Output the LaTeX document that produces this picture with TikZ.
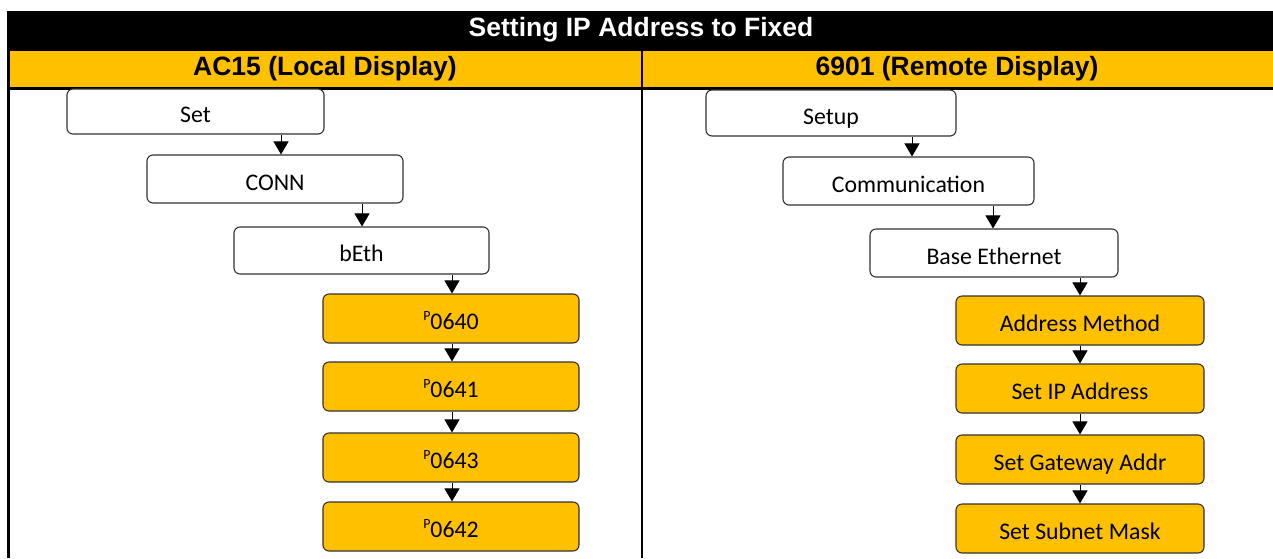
\documentclass[tikz,border=0pt]{standalone}
\usepackage{fontspec}
\setmainfont{Carlito}
\newfontfamily\hdrfont{Liberation Sans}
\usetikzlibrary{arrows.meta}
\definecolor{amber}{RGB}{255,192,0}
\definecolor{boxline}{RGB}{50,50,50}
\tikzset{
  flowbox/.style={draw=boxline, line width=1.1pt, rounded corners=6pt, inner sep=0pt,
    font=\fontsize{23.8}{26}\selectfont, text height=22pt, text depth=0pt, anchor=center},
  wbox/.style={flowbox, fill=white},
  ybox/.style={flowbox, fill=amber},
  arr/.style={line width=1pt, -{Triangle[width=15pt,length=13pt]}},
  hdr/.style={font=\hdrfont\bfseries\fontsize{26.5}{30}\selectfont, inner sep=0pt, anchor=center},
  rule/.style={line width=2.6pt, black}
}
\newcommand{\pp}{{\fontsize{14}{14}\selectfont\raisebox{0.62em}{P}}}
\begin{document}
\begin{tikzpicture}[x=1pt,y=-1pt]
\useasboundingbox (0,0) rectangle (1273,558);
\fill[white] (0,0) rectangle (1273,558);
% table
\fill[black] (7.3,11) rectangle (1273,51);
\fill[amber] (7.3,51) rectangle (1273,87);
\draw[rule] (7.3,88.2) -- (1273,88.2);
\draw[rule] (8.6,11) -- (8.6,558);
\draw[rule] (642,51) -- (642,558);
\node[hdr, text=white] (title) at (641,29.5) {Setting IP Address to Fixed};
\node[hdr] (hl) at (325,68.5) {AC15 (Local Display)};
\node[hdr] (hr) at (957,68.5) {6901 (Remote Display)};
% left column
\node[wbox, minimum width=257pt, minimum height=45pt] (set) at (195.5,111.5) {Set};
\node[wbox, minimum width=256pt, minimum height=48pt] (conn) at (275,179) {CONN};
\node[wbox, minimum width=255pt, minimum height=47pt] (beth) at (361.5,250.5) {bEth};
\node[ybox, minimum width=256pt, minimum height=49pt] (p640) at (451,318.5) {\pp0640};
\node[ybox, minimum width=256pt, minimum height=49pt] (p641) at (451,386.5) {\pp0641};
\node[ybox, minimum width=256pt, minimum height=49pt] (p643) at (451,457.5) {\pp0643};
\node[ybox, minimum width=256pt, minimum height=49pt] (p642) at (451,526.5) {\pp0642};
% right column
\node[wbox, minimum width=250pt, minimum height=46pt] (setup) at (831,113) {Setup};
\node[wbox, minimum width=251pt, minimum height=48pt] (comm) at (908.5,181) {Communication};
\node[wbox, minimum width=248pt, minimum height=48pt] (base) at (994,253) {Base Ethernet};
\node[ybox, minimum width=248pt, minimum height=49pt] (am) at (1080,320.5) {Address Method};
\node[ybox, minimum width=248pt, minimum height=49pt] (ip) at (1080,388.5) {Set IP Address};
\node[ybox, minimum width=248pt, minimum height=49pt] (gw) at (1080,459.5) {Set Gateway Addr};
\node[ybox, minimum width=248pt, minimum height=49pt] (sm) at (1080,528.5) {Set Subnet Mask};
% arrow columns
\coordinate (xa) at (281,0);
\coordinate (xb) at (362,0);
\coordinate (xc) at (452,0);
\coordinate (xd) at (912,0);
\coordinate (xe) at (993,0);
\coordinate (xf) at (1080,0);
\draw[arr] (set.south -| xa) -- (conn.north -| xa);
\draw[arr] (conn.south -| xb) -- (beth.north -| xb);
\draw[arr] (beth.south -| xc) -- (p640.north -| xc);
\draw[arr] (p640.south -| xc) -- (p641.north -| xc);
\draw[arr] (p641.south -| xc) -- (p643.north -| xc);
\draw[arr] (p643.south -| xc) -- (p642.north -| xc);
\draw[arr] (setup.south -| xd) -- (comm.north -| xd);
\draw[arr] (comm.south -| xe) -- (base.north -| xe);
\draw[arr] (base.south -| xf) -- (am.north -| xf);
\draw[arr] (am.south -| xf) -- (ip.north -| xf);
\draw[arr] (ip.south -| xf) -- (gw.north -| xf);
\draw[arr] (gw.south -| xf) -- (sm.north -| xf);
\end{tikzpicture}
\end{document}
